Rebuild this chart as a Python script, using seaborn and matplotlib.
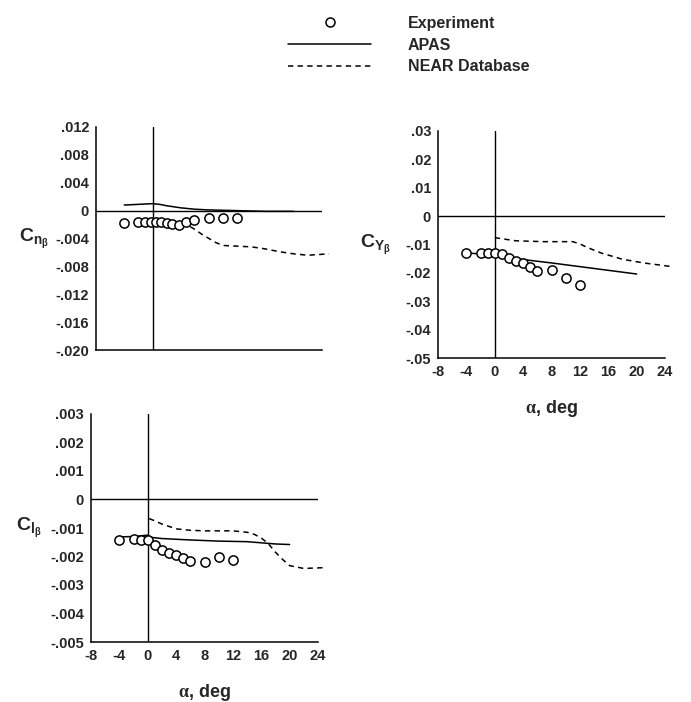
import numpy as np
import pandas as pd
import matplotlib
matplotlib.use("Agg")
import matplotlib.pyplot as plt
from matplotlib.ticker import MultipleLocator, FuncFormatter
from matplotlib.lines import Line2D
from matplotlib.font_manager import FontProperties
import seaborn as sns

# ---- data: sideslip derivatives vs angle of attack ----
# C_n_beta
cn_exp_alpha = [-4, -2, -1, -0.2, 0.5, 1.2, 2, 2.8, 3.7, 4.7, 5.9, 8, 10, 12]
cn_exp = [-0.0018, -0.0016, -0.0016, -0.0017, -0.0017, -0.0017, -0.0018,
          -0.0019, -0.0020, -0.0017, -0.0013, -0.0011, -0.0010, -0.0010]
cn_apas_alpha = [-4, -2, 0, 1, 2, 4, 6, 8, 10, 12, 16, 20]
cn_apas = [0.0008, 0.0009, 0.0010, 0.0009, 0.0007, 0.0004, 0.0002, 0.0001,
           0.00005, 0.0, -0.0001, -0.0001]
cn_near_alpha = [0, 2, 4, 5, 6, 7, 8, 9, 10, 12, 14, 16, 18, 20, 22, 25]
cn_near = [-0.0015, -0.0016, -0.0018, -0.0021, -0.0027, -0.0034, -0.0040,
           -0.0046, -0.0050, -0.0051, -0.0052, -0.0055, -0.0059, -0.0062,
           -0.0064, -0.0062]

# C_Y_beta
cy_exp_alpha = [-4, -2, -1, 0, 1, 2, 3, 4, 5, 6, 8, 10, 12]
cy_exp = [-0.0131, -0.0129, -0.0131, -0.0131, -0.0135, -0.0149, -0.0157,
          -0.0166, -0.0178, -0.0193, -0.0190, -0.0217, -0.0242]
cy_apas_alpha = [-4, -2, 0, 4, 8, 12, 16, 20]
cy_apas = [-0.0130, -0.0133, -0.0140, -0.0153, -0.0165, -0.0178, -0.0191, -0.0204]
cy_near_alpha = [0, 3, 7, 11, 12, 13, 15, 18, 21, 25]
cy_near = [-0.0076, -0.0087, -0.0090, -0.0090, -0.0098, -0.0110, -0.0130,
           -0.0152, -0.0165, -0.0178]

# C_l_beta
cl_exp_alpha = [-4, -2, -1, 0, 1, 2, 3, 4, 5, 6, 8, 10, 12]
cl_exp = [-0.00142, -0.00139, -0.00142, -0.00142, -0.00158, -0.00176, -0.00187,
          -0.00196, -0.00205, -0.00217, -0.00219, -0.00200, -0.00211]
cl_apas_alpha = [-4, -2, 0, 0.5, 2, 6, 10, 14, 16, 18, 20]
cl_apas = [-0.00131, -0.00130, -0.00125, -0.00133, -0.00137, -0.00142,
           -0.00146, -0.00148, -0.00152, -0.00156, -0.00158]
cl_near_alpha = [0.2, 1, 2, 4, 6, 8, 12, 14, 15, 16, 17, 18, 19, 20, 22, 25]
cl_near = [-0.00067, -0.00075, -0.00086, -0.00103, -0.00108, -0.00110,
           -0.00110, -0.00115, -0.00122, -0.00135, -0.00155, -0.00185,
           -0.00210, -0.00232, -0.00242, -0.00239]

legend_labels = ["Experiment", "APAS", "NEAR Database"]

# ---- style ----
sns.set_style("white")
plt.rcParams["font.family"] = ["Liberation Sans", "DejaVu Sans"]
plt.rcParams["font.weight"] = "bold"
plt.rcParams["mathtext.fontset"] = "custom"
plt.rcParams["mathtext.rm"] = "Liberation Serif"
plt.rcParams["mathtext.it"] = "Liberation Sans"
plt.rcParams["mathtext.bf"] = "Liberation Sans:bold"

BOLD = FontProperties(family="Liberation Sans", weight="bold", size=11.5)
DASH = (0, (3.5, 2.8))
LW = 1.1

W, H = 691, 702
fig = plt.figure(figsize=(W / 100, H / 100), dpi=100)


def px_axes(left, right, top, bottom):
    return fig.add_axes([left / W, 1 - bottom / H, (right - left) / W, (bottom - top) / H])


def fmt_factory(decimals):
    def f(v, pos):
        if abs(v) < 1e-12:
            return "0"
        s = f"{v:.{decimals}f}"
        return s.replace("0.", ".", 1).replace("−", "-")
    return FuncFormatter(f)


def panel(ax, ea, ev, aa, av, na, nv, ylim, ymaj, dec, ylabel, show_x):
    ax.set_xlim(-8, 24)
    ax.set_ylim(*ylim)
    ax.axhline(0, color="k", lw=1.0, zorder=1)
    ax.axvline(0, color="k", lw=1.0, zorder=1)
    sns.lineplot(x=aa, y=av, ax=ax, color="k", lw=LW, sort=False,
                 estimator=None, zorder=2)
    sns.lineplot(x=na, y=nv, ax=ax, color="k", lw=LW, sort=False,
                 estimator=None, linestyle=DASH, zorder=2, clip_on=False)
    sns.scatterplot(x=ea, y=ev, ax=ax, marker="o", s=44, facecolor="white",
                    edgecolor="k", linewidth=1.1, zorder=3, clip_on=False)
    for side in ("top", "right"):
        ax.spines[side].set_visible(False)
    for side in ("left", "bottom"):
        ax.spines[side].set_linewidth(1.1)
        ax.spines[side].set_color("k")
    ax.xaxis.set_major_locator(MultipleLocator(4))
    ax.xaxis.set_minor_locator(MultipleLocator(2))
    ax.yaxis.set_major_locator(MultipleLocator(ymaj))
    ax.yaxis.set_minor_locator(MultipleLocator(ymaj / 2))
    ax.yaxis.set_major_formatter(fmt_factory(dec))
    ax.xaxis.set_major_formatter(FuncFormatter(lambda v, p: f"{int(round(v))}".replace("−", "-")))
    ax.tick_params(which="both", direction="in", color="k", width=1.0,
                   labelsize=10.5, pad=5)
    ax.tick_params(which="major", length=4)
    ax.tick_params(which="minor", length=2)
    if not show_x:
        ax.tick_params(axis="x", labelbottom=False)
    else:
        ax.set_xlabel(r"$\mathrm{\alpha}$, deg", fontsize=13, fontweight="bold",
                      labelpad=14)
    for lab in ax.get_xticklabels() + ax.get_yticklabels():
        lab.set_fontweight("bold")
    ax.set_ylabel("")
    ax.text(-0.275, 0.5, ylabel, transform=ax.transAxes, fontsize=14,
            ha="center", va="center")


ax1 = px_axes(96, 322, 127, 350)
panel(ax1, cn_exp_alpha, cn_exp, cn_apas_alpha, cn_apas, cn_near_alpha, cn_near,
      (-0.020, 0.012), 0.004, 3, r"$\mathbf{C}_{\mathbf{n}_{\beta}}$", False)

ax2 = px_axes(438, 665, 131, 358)
panel(ax2, cy_exp_alpha, cy_exp, cy_apas_alpha, cy_apas, cy_near_alpha, cy_near,
      (-0.05, 0.03), 0.01, 2, r"$\mathbf{C}_{\mathbf{Y}_{\beta}}$", True)

ax3 = px_axes(91, 318, 414, 642)
panel(ax3, cl_exp_alpha, cl_exp, cl_apas_alpha, cl_apas, cl_near_alpha, cl_near,
      (-0.005, 0.003), 0.001, 3, r"$\mathbf{C}_{\mathbf{l}_{\beta}}$", True)

# legend above the panels
handles = [
    Line2D([], [], ls="none", marker="o", ms=6.5, mfc="white", mec="k", mew=1.1),
    Line2D([], [], color="k", lw=LW),
    Line2D([], [], color="k", lw=LW, ls=DASH),
]
leg = fig.legend(handles, legend_labels, loc="upper left",
                 bbox_to_anchor=(288 / W, 1 - 16 / H), frameon=False,
                 prop=BOLD, handlelength=5.2, handletextpad=2.3,
                 labelspacing=0.42, borderpad=0, borderaxespad=0)

fig.savefig("out.png", dpi=100)
